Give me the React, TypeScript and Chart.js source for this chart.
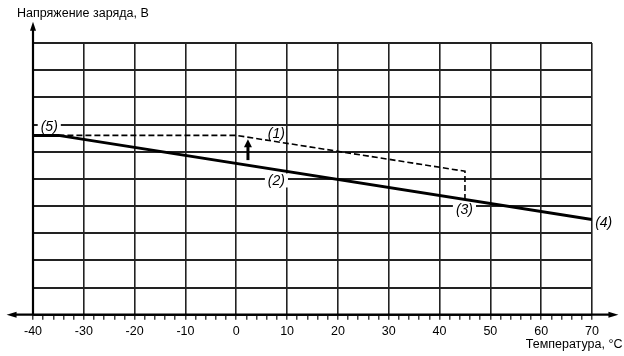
import { useEffect, useRef } from 'react';
import { Chart, registerables } from 'chart.js';

Chart.register(...registerables);

// ---- Data ----
const xMin = -40;
const xMax = 70;
const yMin = 0;
const yMax = 10;
const xStep = 2;
const xLabelStep = 10;

// Curve (2): solid characteristic
const solidX = [-40, -35, 70];
const solidY = [6.6, 6.6, 3.5];

// Curve (1): dashed characteristic
const dashedX = [-35, 0, 45, 45];
const dashedY = [6.6, 6.6, 5.28, 4.24];

// Marker labels
const markerText = ['(1)', '(2)', '(3)', '(4)', '(5)'];
const markerX = [7.9, 7.9, 44.9, 72.3, -36.8];
const markerY = [6.67, 4.94, 3.89, 3.42, 6.95];
const markerBg = [false, true, true, false, true];

// Upward arrow
const arrowX = 2.3;
const arrowFrom = 5.69;
const arrowTo = 6.46;

// Axis extents (beyond the grid, with arrowheads)
const axisXFrom = -45.2;
const axisXTo = 75.2;
const axisYTo = 10.78;

const yTitle = 'Напряжение заряда, В';
const xTitle = 'Температура, °C';

const FONT = 'Arial, "Liberation Sans", sans-serif';

function toPoints(xs: number[], ys: number[]) {
  return xs.map((v, i) => ({ x: v, y: ys[i] }));
}

const decorPlugin = {
  id: 'decor',
  beforeDatasetsDraw(chart: any) {
    const { ctx, chartArea, scales } = chart;
    const x = scales.x;
    const y = scales.y;
    ctx.save();
    ctx.strokeStyle = '#000';
    ctx.fillStyle = '#000';
    ctx.lineWidth = 2.2;

    // X axis line with arrows
    const y0 = y.getPixelForValue(0);
    const xl = x.getPixelForValue(axisXFrom);
    const xr = x.getPixelForValue(axisXTo);
    ctx.beginPath();
    ctx.moveTo(xl + 6, y0);
    ctx.lineTo(xr - 6, y0);
    ctx.stroke();
    ctx.beginPath();
    ctx.moveTo(xl, y0);
    ctx.lineTo(xl + 10, y0 - 3);
    ctx.lineTo(xl + 10, y0 + 3);
    ctx.closePath();
    ctx.fill();
    ctx.beginPath();
    ctx.moveTo(xr, y0);
    ctx.lineTo(xr - 10, y0 - 3);
    ctx.lineTo(xr - 10, y0 + 3);
    ctx.closePath();
    ctx.fill();

    // Y axis line with arrow
    const xa = x.getPixelForValue(xMin);
    const yt = y.getPixelForValue(axisYTo);
    ctx.beginPath();
    ctx.moveTo(xa, y0);
    ctx.lineTo(xa, yt + 6);
    ctx.stroke();
    ctx.beginPath();
    ctx.moveTo(xa, yt);
    ctx.lineTo(xa - 3, yt + 9);
    ctx.lineTo(xa + 3, yt + 9);
    ctx.closePath();
    ctx.fill();

    // Marker labels
    ctx.font = 'italic 14px ' + FONT;
    ctx.textAlign = 'center';
    ctx.textBaseline = 'middle';
    markerText.forEach((t, i) => {
      const px = x.getPixelForValue(markerX[i]);
      const py = y.getPixelForValue(markerY[i]);
      if (markerBg[i]) {
        const w = ctx.measureText(t).width + 6;
        ctx.fillStyle = '#fff';
        ctx.fillRect(px - w / 2, py - 7, w, 14);
      }
      ctx.fillStyle = '#000';
      ctx.fillText(t, px, py + 1);
    });

    // Titles
    ctx.font = '12.5px ' + FONT;
    ctx.textBaseline = 'alphabetic';
    ctx.textAlign = 'left';
    ctx.fillText(yTitle, chartArea.left - 16, chartArea.top - 26.5);
    ctx.textAlign = 'right';
    ctx.fillText(xTitle, xr + 4, chartArea.bottom + 33);
    ctx.restore();
  },
  afterDatasetsDraw(chart: any) {
    const { ctx, scales } = chart;
    const x = scales.x;
    const y = scales.y;
    const ax = x.getPixelForValue(arrowX);
    const yb = y.getPixelForValue(arrowFrom);
    const ytp = y.getPixelForValue(arrowTo);
    ctx.save();
    ctx.strokeStyle = '#000';
    ctx.fillStyle = '#000';
    ctx.lineWidth = 3;
    ctx.beginPath();
    ctx.moveTo(ax, yb);
    ctx.lineTo(ax, ytp + 6);
    ctx.stroke();
    ctx.beginPath();
    ctx.moveTo(ax, ytp);
    ctx.lineTo(ax - 4, ytp + 8);
    ctx.lineTo(ax + 4, ytp + 8);
    ctx.closePath();
    ctx.fill();
    ctx.restore();
  },
};

export default function App() {
  const ref = useRef<HTMLCanvasElement | null>(null);

  useEffect(() => {
    if (!ref.current) return;
    const chart = new Chart(ref.current, {
      type: 'line',
      data: {
        datasets: [
          {
            data: toPoints(dashedX, dashedY),
            borderColor: '#000',
            borderWidth: 1.6,
            borderDash: [6, 3],
            pointRadius: 0,
            tension: 0,
            fill: false,
          },
          {
            data: toPoints(solidX, solidY),
            borderColor: '#000',
            borderWidth: 3,
            pointRadius: 0,
            tension: 0,
            fill: false,
          },
        ],
      },
      options: {
        responsive: false,
        animation: false,
        layout: { padding: { left: 33, right: 32, top: 43, bottom: 13.3 } },
        plugins: {
          legend: { display: false },
          title: { display: false },
          tooltip: { enabled: false },
        },
        scales: {
          x: {
            type: 'linear',
            min: xMin,
            max: xMax,
            border: { display: false },
            grid: {
              color: (c: any) =>
                c.tick && Math.abs(c.tick.value % xLabelStep) < 1e-9 ? '#222' : 'rgba(0,0,0,0)',
              lineWidth: 1.6,
              drawTicks: true,
              tickLength: 5,
              tickColor: '#111',
              tickWidth: 1.2,
            },
            ticks: {
              stepSize: xStep,
              autoSkip: false,
              maxRotation: 0,
              padding: 4,
              color: '#000',
              font: { family: FONT, size: 12.5 },
              callback: (v: any) =>
                Math.abs(Number(v) % xLabelStep) < 1e-9 ? String(Number(v)) : '',
            },
          },
          y: {
            type: 'linear',
            min: yMin,
            max: yMax,
            border: { display: false },
            grid: {
              color: '#222',
              lineWidth: 2,
              drawTicks: false,
            },
            ticks: { display: false, stepSize: 1 },
          },
        },
      },
      plugins: [decorPlugin],
    });
    return () => chart.destroy();
  }, []);

  return (
    <div style={{ position: 'fixed', left: 0, top: 0, width: 624, height: 356, background: '#fff' }}>
      <canvas ref={ref} width={624} height={356} style={{ display: 'block' }} />
    </div>
  );
}
